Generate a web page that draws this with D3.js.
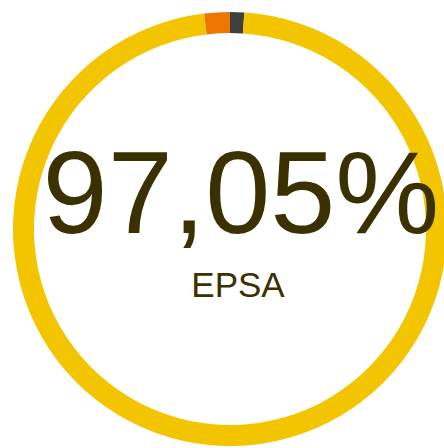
<!DOCTYPE html>
<html><head><meta charset="utf-8">
<script src="https://cdn.jsdelivr.net/npm/d3@7"></script>
<style>html,body{margin:0;padding:0;background:#fff;}svg{display:block;}</style>
</head><body>
<svg id="c" width="444" height="448"></svg>
<script>
const categories = ["Otros", "EPSA", "Resto"];
const values = [1.05, 97.05, 1.90];
const colors = ["#3f3f3f", "#f2c500", "#ee7600"];
const mainLabel = "97,05%";
const subLabel = "EPSA";

const svg = d3.select("#c");
const cx = 230, cy = 229, rOuter = 217, rInner = 196;
const g = svg.append("g").attr("transform", `translate(${cx},${cy})`);
const pie = d3.pie().sort(null).value(d => d);
const arc = d3.arc().innerRadius(rInner).outerRadius(rOuter);
g.selectAll("path").data(pie(values)).join("path")
  .attr("d", arc).attr("fill", (d, i) => colors[i]);

svg.append("text").attr("x", 241).attr("y", 233)
  .attr("text-anchor", "middle")
  .attr("font-family", "'Liberation Sans', Arial, sans-serif")
  .attr("font-size", 117).attr("fill", "#3b3100").text(mainLabel);
svg.append("text").attr("x", 238).attr("y", 297)
  .attr("text-anchor", "middle")
  .attr("font-family", "'Liberation Sans', Arial, sans-serif")
  .attr("font-size", 35).attr("fill", "#3b3100").text(subLabel);
</script>
</body></html>
